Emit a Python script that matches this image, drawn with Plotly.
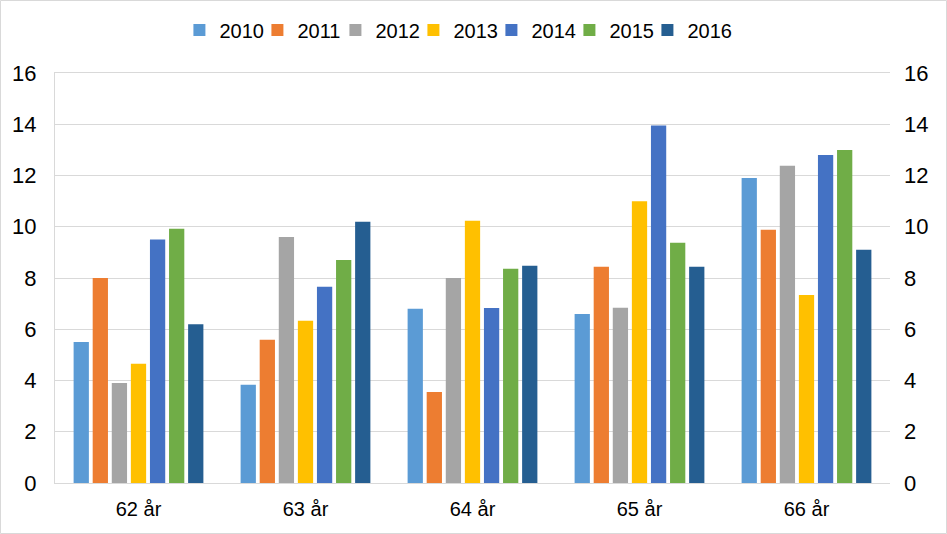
import plotly.graph_objects as go

# dados
categorias = ['62 år', '63 år', '64 år', '65 år', '66 år']
anos = ['2010', '2011', '2012', '2013', '2014', '2015', '2016']
v2010 = [5.5, 3.83, 6.8, 6.6, 11.9]
v2011 = [8.0, 5.59, 3.55, 8.44, 9.88]
v2012 = [3.9, 9.6, 8.0, 6.84, 12.38]
v2013 = [4.65, 6.33, 10.23, 11.0, 7.34]
v2014 = [9.5, 7.66, 6.83, 13.95, 12.8]
v2015 = [9.92, 8.7, 8.36, 9.38, 13.0]
v2016 = [6.2, 10.2, 8.48, 8.44, 9.1]
series = [v2010, v2011, v2012, v2013, v2014, v2015, v2016]
cores = ['#5B9BD5', '#ED7D31', '#A5A5A5', '#FFC000', '#4472C4', '#70AD47', '#255E91']

fig = go.Figure()
for i, (ano, vals, cor) in enumerate(zip(anos, series, cores)):
    fig.add_trace(go.Bar(x=categorias, y=vals, name=ano, marker_color=cor, marker_line_width=0,
                         legendwidth=50 if i == len(anos) - 1 else None))

# traco invisivel so para o eixo da direita aparecer
fig.add_trace(go.Scatter(x=categorias[:1], y=[0], yaxis='y2', mode='markers',
                         marker=dict(opacity=0), showlegend=False, hoverinfo='skip'))

grid = '#D9D9D9'
fonte = dict(family='Liberation Sans, Arial, sans-serif', size=20, color='#000000')

fig.update_layout(
    width=947, height=534,
    margin=dict(l=55, r=57, t=73, b=51),
    paper_bgcolor='white', plot_bgcolor='white',
    font=fonte,
    barmode='group', bargap=0.2, bargroupgap=0.2,
    legend=dict(orientation='h', x=0.149, xanchor='left', xref='paper',
                y=1 - 30 / 534, yanchor='middle', yref='container',
                font=dict(size=20), itemwidth=30, entrywidth=33,
                bgcolor='rgba(0,0,0,0)', traceorder='normal'),
    xaxis=dict(showgrid=False, showline=True, linecolor=grid, mirror=True,
               ticks='', tickfont=dict(size=20), ticklabelstandoff=8, automargin=False),
    yaxis=dict(range=[0, 16], dtick=2, showgrid=True, gridcolor=grid, gridwidth=1,
               showline=True, linecolor=grid, zeroline=False, ticks='',
               tickfont=dict(size=22), ticklabelstandoff=13, automargin=False),
    yaxis2=dict(range=[0, 16], dtick=2, overlaying='y', side='right', showgrid=False,
                zeroline=False, ticks='', tickfont=dict(size=22),
                ticklabelstandoff=13, automargin=False),
)

# moldura externa do grafico
fig.add_shape(type='rect', xref='paper', yref='paper',
              x0=-54.5 / 835, x1=(946.5 - 55) / 835,
              y0=(483 - 533.5) / 410, y1=(483 - 0.5) / 410,
              line=dict(color=grid, width=1), fillcolor='rgba(0,0,0,0)', layer='below')

fig.write_html('out.html', config={'displayModeBar': False},
               post_script="document.body.style.margin='0';document.body.style.overflow='hidden';")
